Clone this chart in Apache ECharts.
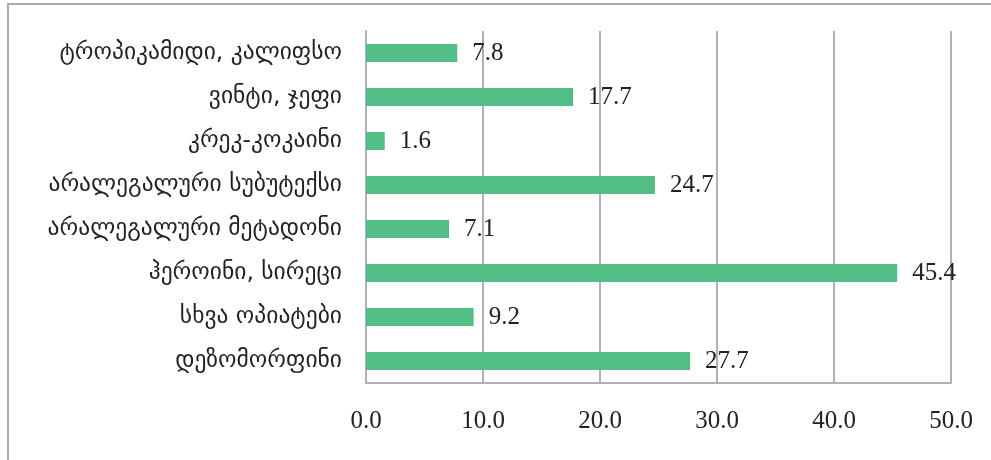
<!DOCTYPE html>
<html><head><meta charset="utf-8">
<script src="https://cdn.jsdelivr.net/npm/echarts@6/dist/echarts.min.js"></script>
<style>html,body{margin:0;padding:0;background:#fff}#c{width:991px;height:460px}</style>
</head><body><div id="c"></div>
<script>
const categories = ["ტროპიკამიდი, კალიფსო","ვინტი, ჯეფი","კრეკ-კოკაინი","არალეგალური სუბუტექსი","არალეგალური მეტადონი","ჰეროინი, სირეცი","სხვა ოპიატები","დეზომორფინი"];
const values = [7.8,17.7,1.6,24.7,7.1,45.4,9.2,27.7];
const xTicks = {min:0,max:50,interval:10};
const chart = echarts.init(document.getElementById('c'),null,{renderer:'canvas'});
chart.setOption({
  animation:false,
  graphic:[{type:'rect',shape:{x:8,y:4,width:1100,height:600},style:{fill:'none',stroke:'#ababab',lineWidth:2}}],
  grid:{left:366,right:40,top:31,bottom:77},
  xAxis:{type:'value',min:xTicks.min,max:xTicks.max,interval:xTicks.interval,
    axisLine:{show:true,lineStyle:{color:'#b0b0b4',width:2}},axisTick:{show:false},
    splitLine:{show:true,lineStyle:{color:'#b0b0b4',width:2}},
    axisLabel:{margin:26,color:'#222',fontFamily:'Liberation Serif',fontSize:25,formatter:v=>v.toFixed(1)}},
  yAxis:{type:'category',inverse:true,data:categories,
    axisLine:{show:true,lineStyle:{color:'#b0b0b4',width:2}},axisTick:{show:false},
    axisLabel:{margin:24,color:'#222',fontFamily:'DejaVu Sans',fontSize:23.5}},
  series:[{type:'bar',data:values,barWidth:18,itemStyle:{color:'#52be85'},
    label:{show:true,position:'right',distance:15,color:'#222',fontFamily:'Liberation Serif',fontSize:25,formatter:p=>p.value.toFixed(1)}}]
});
</script></body></html>
